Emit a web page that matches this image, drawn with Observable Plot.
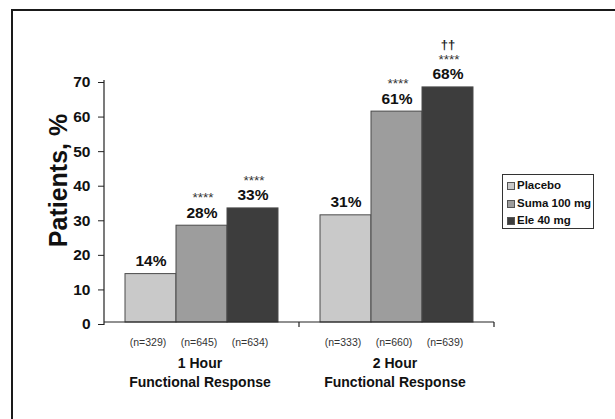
<!DOCTYPE html>
<html>
<head>
<meta charset="utf-8">
<script src="https://cdn.jsdelivr.net/npm/d3@7"></script>
<script src="https://cdn.jsdelivr.net/npm/@observablehq/plot@0.6"></script>
<style>
  html, body { margin: 0; padding: 0; background: #fff; }
  #wrap { position: relative; width: 615px; height: 419px; overflow: hidden; font-family: "Liberation Sans", Arial, sans-serif; }
  #wrap svg { position: absolute; left: 0; top: 0; }
  .bt { position: absolute; left: 11px; top: 9px; width: 610px; height: 2px; background: #1a1a1a; }
  .bl { position: absolute; left: 11px; top: 9px; width: 2px; height: 420px; background: #1a1a1a; }
  #legend { position: absolute; left: 502px; top: 174px; width: 92px; height: 55px; border: 1px solid #333; box-sizing: border-box; background: #fff; font-weight: bold; font-size: 11.5px; color: #111; }
  #legend .it { position: absolute; left: 4px; height: 12px; line-height: 12px; white-space: nowrap; }
  #legend .sw { display: inline-block; width: 8px; height: 8px; border: 1px solid #555; box-sizing: border-box; vertical-align: -1px; margin-right: 2px; }
</style>
</head>
<body>
<div id="wrap">
  <div class="bt"></div>
  <div class="bl"></div>
</div>
<script>
const groups = ["1 Hour", "2 Hour"];
const treatments = ["Placebo", "Suma 100 mg", "Ele 40 mg"];
const colors = ["#c9c9c9", "#9d9d9d", "#3d3d3d"];
const values1h = [14, 28, 33];
const values2h = [31, 61, 68];
const n1h = [329, 645, 634];
const n2h = [333, 660, 639];
const sig1h = ["", "****", "****"];
const sig2h = ["", "****", "****"];
const dagger1h = ["", "", ""];
const dagger2h = ["", "", "††"];
const yTicks = [0, 10, 20, 30, 40, 50, 60, 70];

const rows = [];
treatments.forEach((t, i) => rows.push({group: groups[0], treatment: t, value: values1h[i], n: n1h[i], sig: sig1h[i], dagger: dagger1h[i]}));
treatments.forEach((t, i) => rows.push({group: groups[1], treatment: t, value: values2h[i], n: n2h[i], sig: sig2h[i], dagger: dagger2h[i]}));

const chart = Plot.plot({
  width: 615,
  height: 419,
  marginLeft: 104,
  marginRight: 121,
  marginTop: 80,
  marginBottom: 97,
  style: {fontFamily: "Liberation Sans, Arial, sans-serif", background: "transparent", overflow: "visible"},
  fx: {domain: groups, padding: 0, axis: null},
  x: {domain: treatments, paddingInner: 0, paddingOuter: 0.386, axis: null},
  y: {domain: [0, 70], axis: null},
  color: {domain: treatments, range: colors},
  marks: [
    Plot.barY(rows, {fx: "group", x: "treatment", y: "value", fill: "treatment", stroke: "#4a4a4a", strokeWidth: 1}),
    Plot.axisY({ticks: yTicks, tickSize: 6, tickPadding: 8, fontSize: 15.5, fontWeight: "bold", fill: "#111", stroke: "#222", label: null, dy: 2}),
    Plot.text(rows, {fx: "group", x: "treatment", y: "value", text: d => d.value + "%", dy: -13, fontSize: 15.5, fontWeight: "bold", fill: "#111"}),
    Plot.text(rows, {fx: "group", x: "treatment", y: "value", text: "sig", dy: -28, dx: 1, fontSize: 13.5, fill: "#333", ariaLabel: "sig"}),
    Plot.text(rows, {fx: "group", x: "treatment", y: "value", text: "dagger", dy: -43, fontSize: 13, fontWeight: "bold", fill: "#222"}),
    Plot.text(rows, {fx: "group", x: "treatment", frameAnchor: "bottom", lineAnchor: "middle", text: d => "(n=" + d.n + ")", dy: 20, dx: -3, fontSize: 10.5, fill: "#333"}),
    Plot.text(groups, {fx: d => d, frameAnchor: "bottom", lineAnchor: "middle", text: d => d + "\nFunctional Response", dy: 49, dx: -2, lineHeight: 1.33, fontSize: 14, fontWeight: "bold", fill: "#111"}),
    Plot.text(["Patients, %"], {fx: () => groups[0], frameAnchor: "left", textAnchor: "middle", lineAnchor: "middle", text: d => d, rotate: -90, dx: -46, dy: -21, fontSize: 25, fontWeight: "bold", fill: "#111"})
  ]
});

document.getElementById("wrap").appendChild(chart);
d3.select(chart).selectAll("g[aria-label=sig] text").style("letter-spacing", "1.2px");

// axis lines and group-boundary ticks, from Plot's own scales
const fxS = chart.scale("fx");
const yS = chart.scale("y");
const fxb = d3.scaleBand(fxS.domain, fxS.range).paddingInner(fxS.paddingInner || 0).paddingOuter(fxS.paddingOuter || 0).align(fxS.align ?? 0.5);
const ys = d3.scaleLinear(yS.domain, yS.range);
const g = d3.select(chart).append("g").attr("stroke", "#222").attr("stroke-width", 1.2).attr("fill", "none");
const x0 = fxS.range[0], x1 = fxS.range[1];
g.append("line").attr("x1", x0).attr("x2", x0).attr("y1", ys(yTicks[yTicks.length - 1])).attr("y2", ys(0) + 3);
g.append("line").attr("x1", x0).attr("x2", x1).attr("y1", ys(0)).attr("y2", ys(0));
groups.forEach(d => {
  const xr = fxb(d) + fxb.bandwidth();
  g.append("line").attr("x1", xr).attr("x2", xr).attr("y1", ys(0)).attr("y2", ys(0) + 5);
});

// legend
const leg = document.createElement("div");
leg.id = "legend";
const tops = [4, 21.5, 39];
treatments.forEach((t, i) => {
  const it = document.createElement("div");
  it.className = "it";
  it.style.top = tops[i] + "px";
  const sw = document.createElement("span");
  sw.className = "sw";
  sw.style.background = colors[i];
  it.appendChild(sw);
  it.appendChild(document.createTextNode(t));
  leg.appendChild(it);
});
document.getElementById("wrap").appendChild(leg);
</script>
</body>
</html>
